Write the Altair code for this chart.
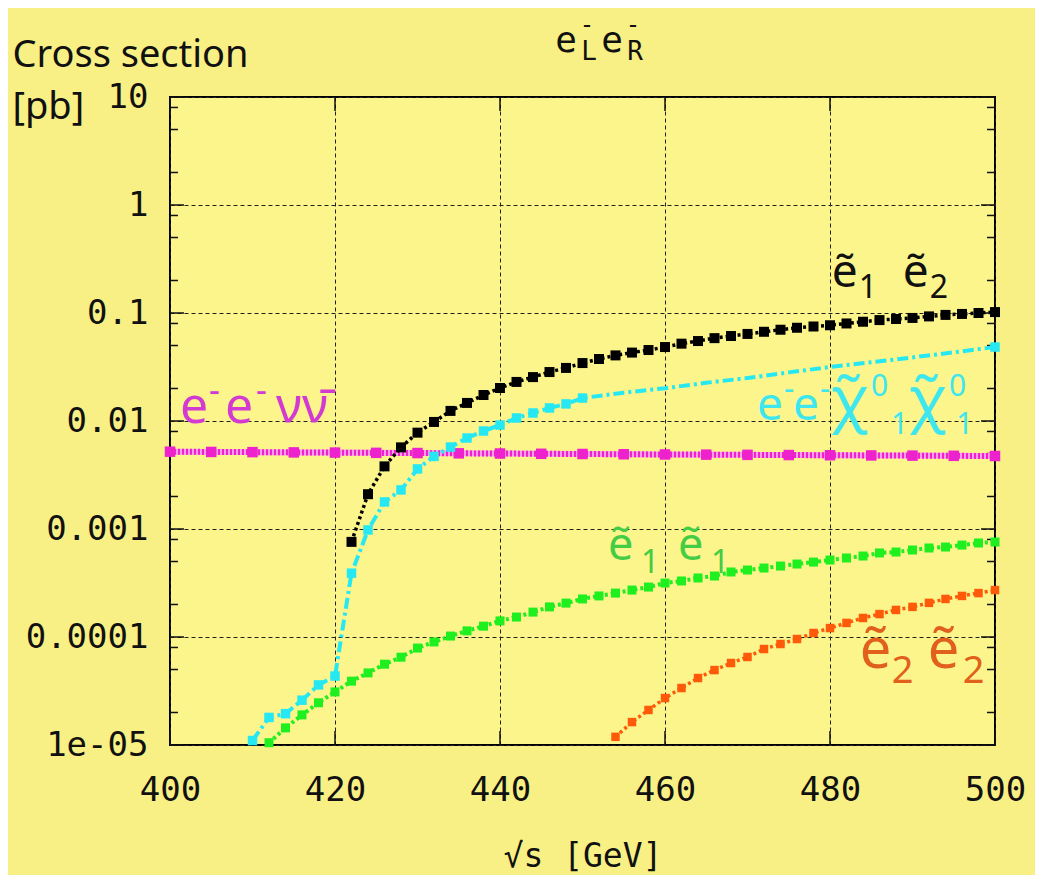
import altair as alt
import pandas as pd

# ---------------- data ----------------
black_x = list(range(422, 501, 2))
black_y = [0.00076, 0.0021, 0.0038, 0.0057, 0.0078, 0.0098, 0.0124, 0.0147, 0.0174, 0.0202,
           0.0230, 0.0255, 0.0284, 0.0310, 0.0344, 0.0375, 0.0405, 0.0430, 0.0454, 0.0484,
           0.0520, 0.0550, 0.0585, 0.0612, 0.064, 0.067, 0.070, 0.073, 0.075, 0.077,
           0.080, 0.083, 0.086, 0.088, 0.090, 0.093, 0.096, 0.098, 0.100, 0.102]

cyan_x = list(range(410, 451, 2)) + [455, 460, 465, 470, 475, 480, 485, 490, 495, 500]
cyan_y = [1.1e-5, 1.8e-5, 1.95e-5, 2.6e-5, 3.6e-5, 4.35e-5, 3.9e-4, 9.8e-4, 1.78e-3, 2.3e-3,
          3.6e-3, 4.7e-3, 5.74e-3, 6.96e-3, 8.08e-3, 9.18e-3, 1.066e-2, 1.186e-2, 1.32e-2, 1.44e-2,
          1.63e-2, 0.0183, 0.0201, 0.0226, 0.0250, 0.0282, 0.0316, 0.0350, 0.0388, 0.0432, 0.0484]
cyan_marker_max = 450  # markers drawn up to here, plus the end point

green_x = list(range(412, 501, 2))
green_y = [1.05e-5, 1.44e-5, 1.9e-5, 2.46e-5, 3.1e-5, 3.9e-5, 4.65e-5, 5.6e-5, 6.5e-5, 7.9e-5,
           9.0e-5, 1.02e-4, 1.14e-4, 1.26e-4, 1.41e-4, 1.53e-4, 1.70e-4, 1.90e-4, 2.06e-4, 2.25e-4,
           2.40e-4, 2.55e-4, 2.72e-4, 2.90e-4, 3.16e-4, 3.30e-4, 3.52e-4, 3.67e-4, 4.00e-4, 4.17e-4,
           4.35e-4, 4.54e-4, 4.74e-4, 4.94e-4, 5.16e-4, 5.39e-4, 5.62e-4, 6.00e-4, 6.12e-4, 6.39e-4,
           6.67e-4, 6.81e-4, 7.10e-4, 7.42e-4, 7.58e-4]

orange_x = list(range(454, 501, 2))
orange_y = [1.19e-5, 1.63e-5, 2.11e-5, 2.72e-5, 3.37e-5, 4.17e-5, 4.94e-5, 5.74e-5, 6.53e-5, 7.74e-5,
            8.61e-5, 9.58e-5, 1.09e-4, 1.21e-4, 1.35e-4, 1.50e-4, 1.63e-4, 1.78e-4, 1.90e-4, 2.07e-4,
            2.25e-4, 2.40e-4, 2.55e-4, 2.72e-4]

magenta_x = list(range(400, 501, 5))
magenta_y = [0.00520, 0.00517, 0.00515, 0.00512, 0.00510, 0.00507, 0.00505, 0.00502, 0.00500, 0.00497,
             0.00495, 0.00492, 0.00490, 0.00488, 0.00486, 0.00484, 0.00482, 0.00480, 0.00478, 0.00476,
             0.00474]

x_ticks = [400, 420, 440, 460, 480, 500]
y_ticks = [1e-5, 1e-4, 1e-3, 1e-2, 0.1, 1, 10]
y_tick_labels = ["1e-05", "0.0001", "0.001", "0.01", "0.1", "1", "10"]
y_minor = [m * 10.0 ** k for k in range(-5, 1) for m in (2, 5, 8)]

# in-plot labels: anchor (GeV, pb), colour, pieces (text, dx, dy, font size)
labels = [
    (480.2, 0.174, "#111111",
     [("ẽ", 0, 0, 46), ("1", 27, 11, 32), ("ẽ", 71, 0, 46), ("2", 98, 11, 32)]),
    (401.2, 0.0096, "#d23ad2",
     [("e", 0, 0, 50), ("-", 29, -21, 34), ("e", 45, 0, 50), ("-", 76, -21, 34),
      ("ν", 96, 0, 50), ("ν̄", 122, 0, 50)]),
    (471.15, 0.0102, "#3ee6ee",
     [("e", 0, 0, 46), ("-", 27, -20, 32), ("e", 36, 0, 46), ("-", 63, -20, 32),
      ("χ̃", 74, 0, 62), ("0", 114, -24, 30), ("1", 134, 14, 30),
      ("χ̃", 152, 0, 62), ("0", 192, -24, 30), ("1", 199, 14, 30)]),
    (453.1, 5.16e-4, "#44cc44",
     [("ẽ", 0, 0, 45), ("1", 33, 13, 32), ("ẽ", 70, 0, 45), ("1", 103, 13, 32)]),
    (483.6, 5.16e-5, "#e0601c",
     [("ẽ", 0, 0, 56), ("2", 32, 15, 38), ("ẽ", 68, 0, 56), ("2", 103, 15, 38)]),
]

# ---------------- layout ----------------
W, H = 825, 648
MONO = "DejaVu Sans Mono"
SANS = "Noto Sans"

xs = alt.Scale(domain=[400, 500], nice=False, zero=False)
ys = alt.Scale(type="log", domain=[1e-5, 10], nice=False)

label_expr = "'10'"
for v, t in reversed(list(zip(y_ticks[:-1], y_tick_labels[:-1]))):
    label_expr = f"datum.value < {v * 3} ? '{t}' : ({label_expr})"

x_axis = alt.Axis(values=x_ticks, title="√s  [GeV]", titleFont=MONO, titleFontSize=33,
                  titleFontWeight="normal", titleColor="#111", titleY=121, titleBaseline="alphabetic",
                  labelFont=MONO, labelFontSize=34, labelColor="#111", labelPadding=28,
                  labelFlush=False, labelOverlap=False, format="d",
                  ticks=False, domain=False, grid=True, gridColor="#222", gridDash=[4, 3],
                  gridWidth=1, gridOpacity=1)
y_axis = alt.Axis(values=y_ticks, title=["Cross section", "[pb]"], titleAngle=0, titleAlign="left",
                  titleBaseline="alphabetic", titleX=-158, titleY=-31, titleFont=SANS,
                  titleFontSize=38, titleFontWeight="normal", titleColor="#111", titleLineHeight=52,
                  labelFont=MONO, labelFontSize=34, labelColor="#111", labelPadding=22,
                  labelExpr=label_expr, labelOverlap=False, labelFlush=False,
                  ticks=False, domain=False, grid=True, gridColor="#222", gridDash=[4, 3],
                  gridWidth=1, gridOpacity=1)

X = alt.X("x:Q", scale=xs, axis=x_axis)
Y = alt.Y("y:Q", scale=ys, axis=y_axis)


def series(xv, yv, color, dash, width, msize, marker_max=None, base_color=None):
    df = pd.DataFrame({"x": xv, "y": yv})
    out = []
    if base_color:
        out.append(alt.Chart(df).mark_line(color=base_color, strokeWidth=width, clip=True)
                   .encode(x=X, y=Y))
    out.append(alt.Chart(df).mark_line(color=color, strokeDash=dash, strokeWidth=width, clip=True)
               .encode(x=X, y=Y))
    pts = alt.Chart(df).mark_square(color=color, size=msize, opacity=1, filled=True).encode(x=X, y=Y)
    if marker_max is not None:
        pts = pts.transform_filter(f"datum.x <= {marker_max} || datum.x >= 500")
    out.append(pts)
    return out


layers = []


def yticks(vals, x0, x1):
    return alt.Chart(pd.DataFrame({"y": vals})).mark_rule(color="#111", strokeWidth=1.5).encode(
        y=Y, x=alt.value(x0), x2=alt.value(x1))


def xticks(vals, y0, y1):
    return alt.Chart(pd.DataFrame({"x": vals})).mark_rule(color="#111", strokeWidth=1.5).encode(
        x=X, y=alt.value(y0), y2=alt.value(y1))


layers += [yticks(y_ticks, 0, 14), yticks(y_minor, 0, 8),
           yticks(y_ticks, W - 14, W), yticks(y_minor, W - 8, W),
           xticks(x_ticks, H - 14, H), xticks(x_ticks, 0, 14)]

layers += series(magenta_x, magenta_y, "#ee22cc", [2, 2], 6, 110, base_color="#ff9ee6")
layers += series(green_x, green_y, "#1fee1f", [3, 3], 4, 81)
layers += series(orange_x, orange_y, "#ff5a0a", [3, 3], 3.5, 72)
layers += series(cyan_x, cyan_y, "#26e8f2", [11, 4, 3, 4], 4, 90, marker_max=cyan_marker_max)
layers += series(black_x, black_y, "#000000", [3, 3], 3.5, 100)

for lx, ly, col, pieces in labels:
    for text, dx, dy, fs in pieces:
        df = pd.DataFrame({"x": [lx], "y": [ly], "t": [text]})
        layers.append(alt.Chart(df).mark_text(font=SANS, fontSize=fs, color=col, align="left",
                                              baseline="alphabetic", dx=dx, dy=dy)
                      .encode(x=X, y=Y, text="t:N"))

# chart title e-_L e-_R built from pieces (pixel offsets from the plot's top-left)
title_parts = [("e", 396, -45, 36), ("-", 417, -64, 24), ("L", 419, -37, 26),
               ("e", 442, -45, 36), ("-", 463, -64, 24), ("R", 465, -37, 26)]
for t, px, py, fs in title_parts:
    layers.append(alt.Chart(pd.DataFrame({"t": [t]})).mark_text(
        font=MONO, fontSize=fs, color="#111", align="center", baseline="alphabetic").encode(
        x=alt.value(px), y=alt.value(py), text="t:N"))

chart = alt.layer(*layers).properties(
    width=W, height=H,
    autosize=alt.AutoSizeParams(type="none"),
    padding={"left": 162, "top": 89, "right": 40, "bottom": 130},
    background="#f8f084",
).configure_view(stroke="#000", strokeWidth=2, fill="#fcf58c")

chart.save("out.html", embed_options={"renderer": "svg", "actions": False})
